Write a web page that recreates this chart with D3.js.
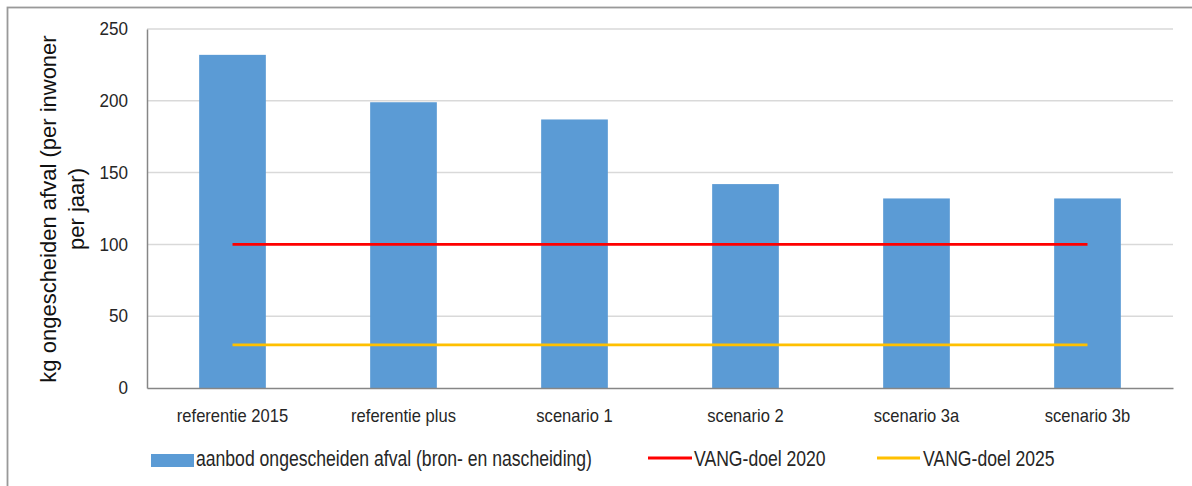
<!DOCTYPE html>
<html>
<head>
<meta charset="utf-8">
<script src="https://cdn.jsdelivr.net/npm/d3@7"></script>
<style>
  body { margin: 0; background: #fff; }
  svg { font-family: "Liberation Sans", Arial, sans-serif; }
</style>
</head>
<body>
<svg id="chart"></svg>
<script>
// categories and values
const categories = ["referentie 2015", "referentie plus", "scenario 1", "scenario 2", "scenario 3a", "scenario 3b"];
const aanbod = [232, 199, 187, 142, 132, 132];
const doel2020 = [100, 100, 100, 100, 100, 100];
const doel2025 = [30, 30, 30, 30, 30, 30];
const yTicks = [0, 50, 100, 150, 200, 250];

const width = 1192, height = 486;
const margin = { top: 29, right: 19, bottom: 98, left: 147 };

const svg = d3.select("#chart").attr("width", width).attr("height", height);

// outer chart border (only top and left edge fall inside the window)
svg.append("rect")
  .attr("x", 7.5).attr("y", 7.5)
  .attr("width", width + 10).attr("height", height + 10)
  .attr("fill", "none").attr("stroke", "#999").attr("stroke-width", 1.8);

const x = d3.scaleBand()
  .domain(categories)
  .range([margin.left, width - margin.right]);

const y = d3.scaleLinear()
  .domain([0, 250])
  .range([height - margin.bottom, margin.top]);

// gridlines
svg.append("g")
  .selectAll("line")
  .data(yTicks.filter(d => d > 0))
  .join("line")
  .attr("x1", margin.left).attr("x2", width - margin.right)
  .attr("y1", d => y(d)).attr("y2", d => y(d))
  .attr("stroke", "#d9d9d9").attr("stroke-width", 1.5);

// bars
const barW = x.bandwidth() * 0.39;
svg.append("g")
  .selectAll("rect")
  .data(aanbod)
  .join("rect")
  .attr("x", (d, i) => x(categories[i]) + (x.bandwidth() - barW) / 2)
  .attr("y", d => y(d))
  .attr("width", barW)
  .attr("height", d => y(0) - y(d))
  .attr("fill", "#5b9bd5");

// target lines
const line = d3.line()
  .x((d, i) => x(categories[i]) + x.bandwidth() / 2)
  .y(d => y(d));
svg.append("path").datum(doel2020).attr("d", line)
  .attr("fill", "none").attr("stroke", "#ff0000").attr("stroke-width", 2.8);
svg.append("path").datum(doel2025).attr("d", line)
  .attr("fill", "none").attr("stroke", "#ffc000").attr("stroke-width", 2.8);

// y axis
const yAxis = svg.append("g")
  .attr("transform", "translate(" + margin.left + ",0)")
  .call(d3.axisLeft(y).tickValues(yTicks).tickSize(0).tickPadding(20));
yAxis.select(".domain").attr("stroke", "#868686").attr("stroke-width", 1.5);
yAxis.selectAll("text")
  .attr("font-size", 18).attr("fill", "#262626").attr("font-family", null)
  .attr("transform", "scale(0.95,1)");

// x axis
const xAxis = svg.append("g")
  .attr("transform", "translate(0," + y(0) + ")")
  .call(d3.axisBottom(x).tickSize(0).tickPadding(21));
xAxis.select(".domain").attr("stroke", "#868686").attr("stroke-width", 1.5);
xAxis.selectAll("text")
  .attr("font-size", 18).attr("fill", "#262626").attr("font-family", null)
  .attr("transform", "scale(0.92,1)");

// y axis title
const yTitle = svg.append("text")
  .attr("transform", "translate(56,209) rotate(-90)")
  .attr("text-anchor", "middle")
  .attr("font-size", 22)
  .attr("fill", "#111");
yTitle.append("tspan").attr("x", 0).attr("dy", 0).text("kg ongescheiden afval (per inwoner");
yTitle.append("tspan").attr("x", 0).attr("dy", 28).text("per jaar)");

// legend
const legend = svg.append("g").attr("font-size", 22).attr("fill", "#262626");
const legendText = (x0, label) =>
  legend.append("text")
    .attr("transform", "translate(" + x0 + ",466) scale(0.8,1)")
    .text(label);
legend.append("rect").attr("x", 151).attr("y", 454).attr("width", 43).attr("height", 13).attr("fill", "#5b9bd5");
legendText(196, "aanbod ongescheiden afval (bron- en nascheiding)");
legend.append("line").attr("x1", 648).attr("x2", 692).attr("y1", 458).attr("y2", 458)
  .attr("stroke", "#ff0000").attr("stroke-width", 3);
legendText(694, "VANG-doel 2020");
legend.append("line").attr("x1", 877).attr("x2", 920).attr("y1", 458).attr("y2", 458)
  .attr("stroke", "#ffc000").attr("stroke-width", 3);
legendText(923, "VANG-doel 2025");
</script>
</body>
</html>
